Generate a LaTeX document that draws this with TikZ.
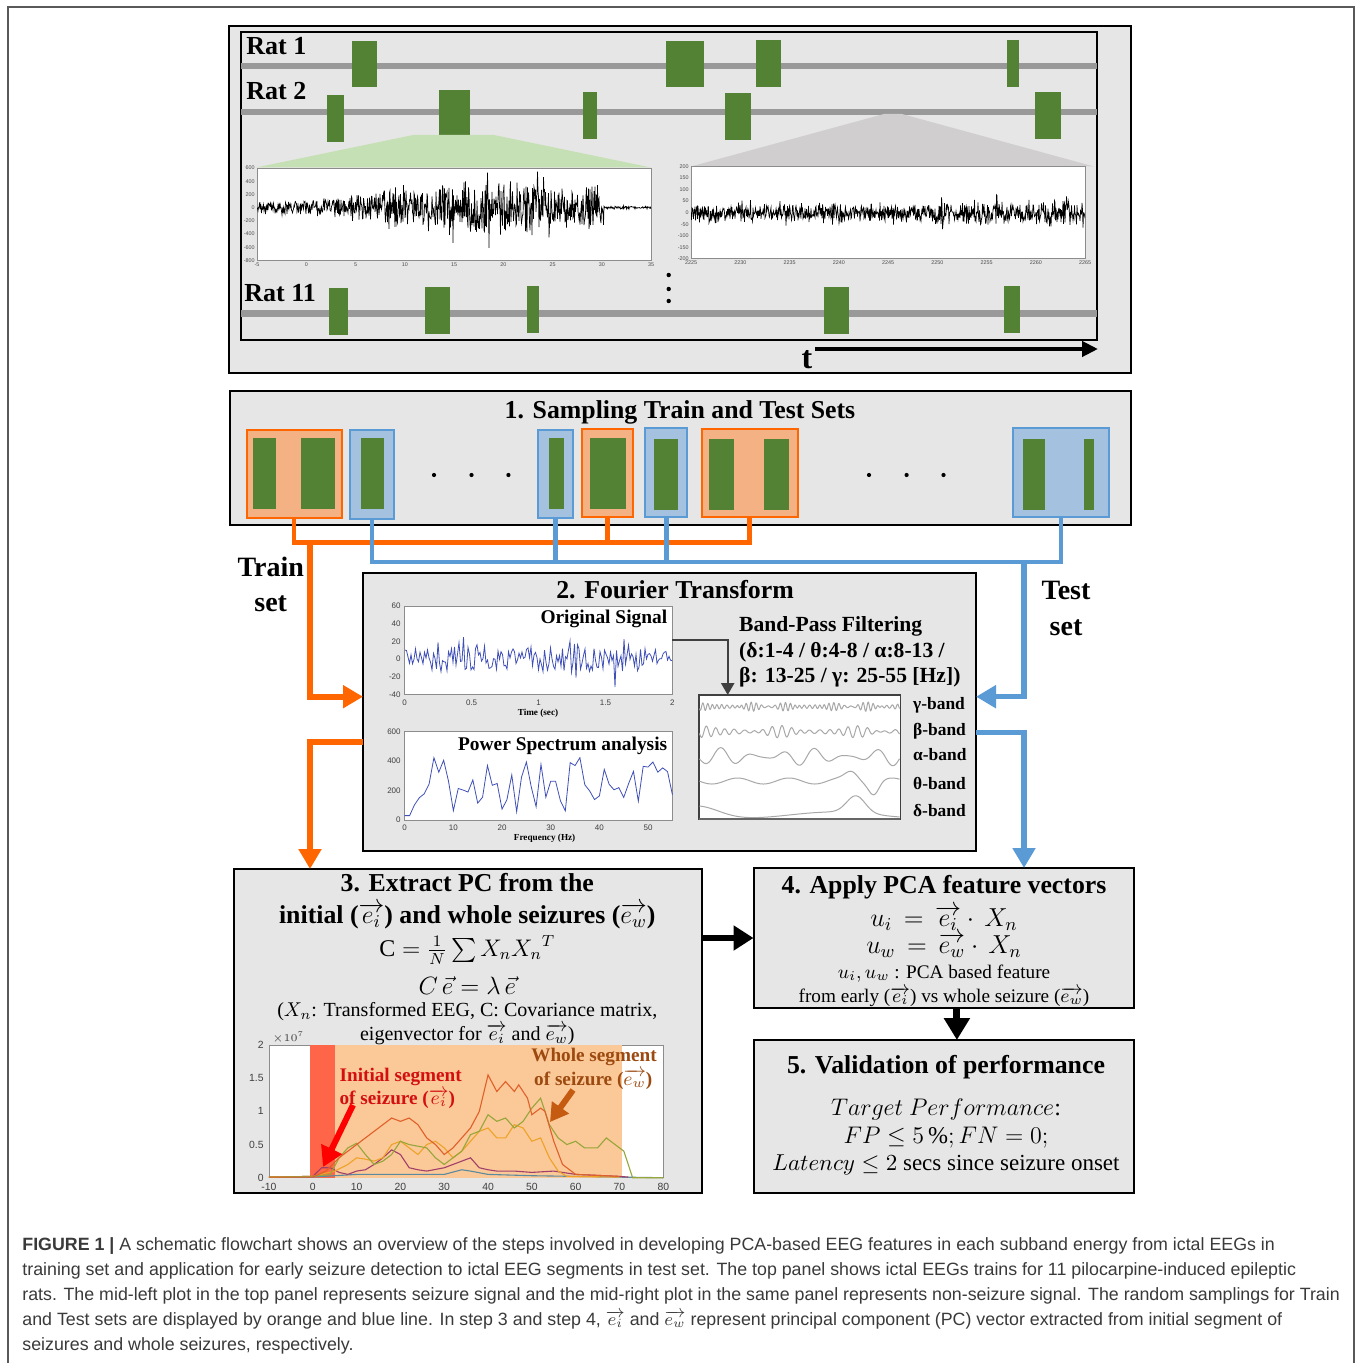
\RequirePackage{fix-cm}
\documentclass[tikz,border=0pt]{standalone}
\usepackage{amsmath}
\usepackage{fontspec}
\setmainfont{Liberation Serif}
\setsansfont{Liberation Sans}
\usetikzlibrary{arrows.meta}

\definecolor{panel}{HTML}{E7E6E6}
\definecolor{seizgreen}{HTML}{548235}
\definecolor{track}{HTML}{999999}
\definecolor{trainfill}{HTML}{F4B183}
\definecolor{trainline}{HTML}{FF6600}
\definecolor{testfill}{HTML}{A4C2E0}
\definecolor{testline}{HTML}{5B9BD5}
\definecolor{zoomgreen}{HTML}{C5E0B4}
\definecolor{zoomgray}{HTML}{D0CECE}
\definecolor{sigblue}{HTML}{3F4FB8}
\definecolor{bandgray}{HTML}{A8A8A8}
\definecolor{wholefill}{HTML}{FBC898}
\definecolor{initfill}{HTML}{FF6649}
\definecolor{initred}{HTML}{D40F0F}
\definecolor{wholebrown}{HTML}{9C4A10}
\definecolor{brownarrow}{HTML}{C55A11}
\definecolor{captxt}{HTML}{3A3A3A}
\definecolor{pcA}{HTML}{E0602A}
\definecolor{pcB}{HTML}{96A63A}
\definecolor{pcC}{HTML}{EDA228}
\definecolor{pcD}{HTML}{A0406A}
\definecolor{pcE}{HTML}{5A8AA0}

\newcommand\setfs[1]{\fontsize{#1}{#1}\selectfont}
% rectangle node given by its pixel corners: [style]{name}{x1}{y1}{x2}{y2}
\newcommand\rectnode[6][]{%
  \node[inner sep=0pt, outer sep=0pt, minimum width={(#5-#3)*0.5pt},
        minimum height={(#6-#4)*0.5pt}, #1] (#2) at ({(#3+#5)/2},{(#4+#6)/2}) {};}
\newcommand\seizblk[4]{\fill[seizgreen] (#1,#2) rectangle (#3,#4);}

\begin{document}
\begin{tikzpicture}[x=0.5pt,y=-0.5pt,
  declare function={szamp(\x)=(\x<604)*(6+28*exp(-((\x-485)/115)*((\x-485)/115))+(\x>578)*11)+(\x>=604)*1.5;
                    bump(\x,\c,\w)=exp(max(-30,-((\x-\c)/\w)*((\x-\c)/\w)));},
  every node/.style={inner sep=0pt},
  panelbox/.style={draw=black, line width=1pt, fill=panel},
  trainbox/.style={fill=trainfill, draw=trainline, line width=1pt},
  testbox/.style={fill=testfill, draw=testline, line width=1pt},
  trainwire/.style={draw=trainline, line width=2.3pt},
  testwire/.style={draw=testline, line width=2.3pt},
  trainflow/.style={draw=trainline, line width=2.8pt, -{Triangle[length=10pt,width=11pt]}},
  testflow/.style={draw=testline, line width=2.6pt, -{Triangle[length=10pt,width=11pt]}},
  bigarrow/.style={draw=black, line width=3pt, -{Triangle[length=10pt,width=12pt]}},
  steptitle/.style={font=\bfseries\setfs{12.9}, anchor=base},
  ratlbl/.style={font=\bfseries\setfs{13}, anchor=base west},
  sidelbl/.style={font=\bfseries\setfs{14}, anchor=base},
  bodytxt/.style={font=\setfs{10}, anchor=base},
  ticklbl/.style={font=\sffamily\setfs{2.7}, text=black!70},
  fticklbl/.style={font=\sffamily\setfs{4}, text=black!75},
  pticklbl/.style={font=\sffamily\setfs{5.2}, text=black!75},
  bandlbl/.style={font=\bfseries\setfs{8.7}, anchor=base west},
  plotlbl/.style={font=\bfseries\setfs{9.7}, anchor=base east},
  axisbox/.style={fill=white, draw=black!45, line width=0.3pt},
  wave/.style={draw=bandgray, line width=0.5pt}
]
\useasboundingbox (0,0) rectangle (1360,1363);
\fill[white] (0,0) rectangle (1360,1363);
\draw[black!65, line width=0.8pt] (8,1363) -- (8,7) -- (1354,7) -- (1354,1363);

% ---------------- seizure trains of the rats ----------------
\rectnode[panelbox]{toppanel}{229}{26}{1131}{373}
\rectnode[draw=black, line width=1.4pt, fill=panel]{trains}{241}{32}{1097}{340}
\fill[track] (241,62.8) rectangle (1097,69.5);
\fill[track] (241,108.6) rectangle (1097,115.3);
\fill[track] (241,310) rectangle (1097,317);
\node[ratlbl] (rat1) at (246,55) {Rat 1};
\node[ratlbl] (rat2) at (246,100) {Rat 2};
\node[ratlbl] (rat11) at (244,302) {Rat 11};
% Rat 1
\seizblk{351.8}{40.7}{377.2}{87.5}
\seizblk{666.4}{40.7}{704}{87.5}
\seizblk{755.5}{40}{781}{86.9}
\seizblk{1007}{40}{1019}{86.9}
% Rat 2
\seizblk{326.9}{94.9}{344.3}{141.7}
\seizblk{438.5}{90.5}{469.8}{135}
\seizblk{583}{91.9}{597}{138.7}
\seizblk{725.4}{92.9}{750.9}{139.7}
\seizblk{1035.4}{91.9}{1061.4}{138.7}
% Rat 11
\seizblk{329.2}{288.2}{347.7}{335.4}
\seizblk{424.6}{287.2}{450}{334}
\seizblk{527}{286.5}{539.2}{333.4}
\seizblk{823.7}{287.5}{849.2}{334.4}
\seizblk{1004.2}{286.2}{1020.4}{333}
% zoom wedges
\fill[zoomgreen] (413,135) -- (494,135) -- (651,167.5) -- (256,167.5) -- cycle;
\fill[zoomgray] (884,114) -- (902,114) -- (1094,166.5) -- (691,166.5) -- cycle;
% seizure EEG
\rectnode[axisbox]{szplot}{257}{168}{651}{260.5}
\pgfmathsetseed{11}
\begin{scope}
\clip (257,168) rectangle (651,260.5);
\draw[line width=0.35pt] (257,207.6)
  \foreach \k in {257.5,258,...,651}{ -- (\k,{207.6+szamp(\k)*(0.75*rand+1.0*rand*rand*rand)}) };
\end{scope}
\foreach \v in {600,400,200,0,-200,-400,-600,-800}
  \node[ticklbl, anchor=east] at (255,{168+(600-\v)/1400*92.5}) {\v};
\foreach \v in {-5,0,5,10,15,20,25,30,35}
  \node[ticklbl, anchor=north] at ({257+(\v+5)/40*394},262) {\v};
% non-seizure EEG
\rectnode[axisbox]{nzplot}{691}{166.5}{1085}{258.8}
\begin{scope}
\clip (691,166.5) rectangle (1085,258.8);
\draw[line width=0.35pt] (691,212.7)
  \foreach \k in {691.5,692,...,1085}{ -- (\k,{212.7+(1+0.4*(\k>940))*(7*rand+14*rand*rand*rand)}) };
\end{scope}
\foreach \v in {200,150,100,50,0,-50,-100,-150,-200}
  \node[ticklbl, anchor=east] at (689,{166.5+(200-\v)/400*92.3}) {\v};
\foreach \v in {2225,2230,2235,2240,2245,2250,2255,2260,2265}
  \node[ticklbl, anchor=north] at ({691+(\v-2225)/40*394},260.5) {\v};
% more rats
\fill (668.7,275) circle (2.2);
\fill (668.7,289) circle (2.2);
\fill (668.7,301) circle (2.2);
% time axis
\node[font=\bfseries\setfs{16}, anchor=base] (tlbl) at (807,369) {t};
\coordinate (tstart) at (815,349);
\coordinate (tend) at (1098,349);
\draw[line width=2.2pt, -{Triangle[length=8pt,width=7.5pt]}] (tstart) -- (tend);

% ---------------- 1. sampling ----------------
\rectnode[panelbox]{sampling}{229.7}{390.7}{1131}{524.7}
\node[steptitle] (samptitle) at (680,418) {1. Sampling Train and Test Sets};
\rectnode[trainbox]{tr1}{246.5}{430}{341.7}{518}
\rectnode[testbox]{te1}{350.3}{430.3}{393.6}{518.7}
\rectnode[testbox]{te2}{537.9}{430}{572.5}{518}
\rectnode[trainbox]{tr2}{582.3}{428.7}{633}{516.7}
\rectnode[testbox]{te3}{645.2}{428}{687.3}{516.7}
\rectnode[trainbox]{tr3}{701.7}{429.3}{797.5}{517.3}
\rectnode[testbox]{te4}{1012.7}{428.3}{1109}{516.7}
\seizblk{252.8}{438}{275.9}{508.7}
\seizblk{301.3}{438}{334.8}{508.7}
\seizblk{360.7}{438}{383.8}{508.7}
\seizblk{548.8}{438}{564.4}{508.7}
\seizblk{589.8}{438}{626.1}{508.7}
\seizblk{654.4}{439}{678.1}{509.7}
\seizblk{708.7}{439}{734}{509.7}
\seizblk{764}{439}{789.4}{509.7}
\seizblk{1023.2}{439}{1044.6}{510}
\seizblk{1084.3}{439}{1093.6}{510}
\foreach \d in {434,471.5,508.4,869,906.6,943.5}
  \fill (\d,475) circle (2.1);

% train / test wiring
\coordinate (trainbus) at (310,542.3);
\coordinate (testbus) at (1024,562);
\draw[trainwire] (tr1.south) -- (tr1.south |- trainbus) -- (tr3.south |- trainbus) -- (tr3.south);
\draw[trainwire] (tr2.south) -- (tr2.south |- trainbus);
\draw[testwire] (te1.south) -- (te1.south |- testbus) -- (te4.south |- testbus) -- (te4.south);
\draw[testwire] (te2.south) -- (te2.south |- testbus);
\draw[testwire] (te3.south) -- (te3.south |- testbus);
\node[sidelbl] (trainlbl1) at (270.7,576.7) {Train};
\node[sidelbl] (trainlbl2) at (270.7,611.7) {set};
\node[sidelbl] (testlbl1) at (1066,599.3) {Test};
\node[sidelbl] (testlbl2) at (1066,635) {set};

% ---------------- 2. Fourier transform ----------------
\rectnode[panelbox]{ft}{363}{573}{976}{851}
\node[steptitle] (fttitle) at (675,598.3) {2. Fourier Transform};
\coordinate (trainin) at (310,696.7);
\coordinate (trainout) at (310,741.7);
\coordinate (testin) at (1024,696.7);
\coordinate (testout) at (1024,732.7);
\draw[trainflow] (trainbus) -- (trainin) -- (trainin -| ft.west);
\draw[testflow] (testbus) -- (testin) -- (testin -| ft.east);

% original signal
\rectnode[axisbox]{osig}{404.7}{606}{672.4}{694.3}
\pgfmathsetseed{5}
\begin{scope}
\clip (404.7,606) rectangle (672.4,694.3);
\draw[sigblue, line width=0.4pt] (405,650)
  \foreach \k in {406.5,408,...,672}{ -- (\k,{658.8+13*rand+19*rand*rand*rand}) };
\end{scope}
\foreach \v in {60,40,20,0,-20,-40}
  \node[fticklbl, anchor=east] at (401,{606+(60-\v)/100*88.3}) {\v};
\foreach \v in {0,0.5,1,1.5,2}
  \node[fticklbl, anchor=north] at ({404.7+\v/2*267.7},699.5) {\v};
\node[font=\bfseries\setfs{4.6}] (tlabel) at (538,713.3) {Time (sec)};
\node[plotlbl] (osiglbl) at (667.6,623.3) {Original Signal};

% power spectrum
\rectnode[axisbox]{pspec}{404.7}{731.3}{672.4}{820}
\pgfmathsetseed{23}
\draw[sigblue, line width=0.4pt] (404.7,815.6) -- (409.6,815.6) -- (414.4,805)
  \foreach \f in {3,...,55}{ -- ({404.7+\f*4.867},{820-(255+200*rand)*0.1478}) };
\foreach \v in {600,400,200,0}
  \node[fticklbl, anchor=east] at (401,{820-\v/600*88.7}) {\v};
\foreach \v in {0,10,20,30,40,50}
  \node[fticklbl, anchor=north] at ({404.7+\v*4.867},825) {\v};
\node[font=\bfseries\setfs{4.6}] (flabel) at (544.6,838.3) {Frequency (Hz)};
\node[plotlbl] (pslbl) at (667.6,750) {Power Spectrum analysis};

% band-pass filtering
\node[font=\bfseries\setfs{10.8}, anchor=base west] (bp1) at (738.8,631.7) {Band-Pass Filtering};
\node[font=\bfseries\setfs{10.8}, anchor=base west] (bp2) at (738.8,657.3) {(δ:1-4 / θ:4-8 / α:8-13 /};
\node[font=\bfseries\setfs{10.8}, anchor=base west] (bp3) at (738.8,682.7) {β: 13-25 / γ: 25-55 [Hz])};
\rectnode[fill=white, draw=black!75, line width=0.6pt]{bands}{698.9}{695}{900.1}{819.3}
\coordinate (sigtap) at (672.4,640);
\coordinate (bandtap) at (727.7,695);
\draw[draw=black!75, line width=1.2pt, -{Triangle[length=6pt,width=6.5pt]}] (sigtap) -| (bandtap);
% the five filtered bands (local abscissa 0..201 across the box)
\begin{scope}
\clip (699,695.5) rectangle (900,819);
\draw[wave] plot[domain=0.5:200.5, samples=500] ({699+\x},{706.7+(2+1.6*sin(9*\x))*sin(74*\x)+1.2*sin(61*\x)});
\draw[wave] plot[domain=0.5:200.5, samples=400] ({699+\x},{731.7+(3+2.2*sin(5*\x+40))*sin(38*\x)+1*sin(29*\x)});
\draw[wave] plot[domain=0.5:200.5, samples=300] ({699+\x},{756.7+(5+4*sin(4.2*\x))*sin(11.5*\x+20)});
\draw[wave] plot[domain=0.5:200.5, samples=250] ({699+\x},{781+3*sin(7*\x)-9*bump(\x,153,9)+12*bump(\x,175,7)});
\draw[wave] plot[domain=0.5:200.5, samples=250] ({699+\x},{815-9*bump(\x,1,28)-17*bump(\x,157,13)+3*sin(2*\x)});
\end{scope}
\draw[black!60, line width=1pt] (699,818.5) -- (900,818.5);
\node[bandlbl] (gam) at (912.8,709.3) {γ-band};
\node[bandlbl] (bet) at (912.8,735) {β-band};
\node[bandlbl] (alp) at (912.8,760.7) {α-band};
\node[bandlbl] (the) at (912.8,789.3) {θ-band};
\node[bandlbl] (del) at (912.8,816) {δ-band};

% ---------------- 3. principal components ----------------
\rectnode[panelbox]{pc}{234.3}{869}{701.7}{1193}
\draw[trainflow] (trainout -| ft.west) -- (trainout) -- (trainout |- pc.north);
\node[steptitle] (pct1) at (467.3,891.7) {3. Extract PC from the};
\node[steptitle] (pct2) at (467.3,923.3) {initial ($\overrightarrow{e_i}$) and whole seizures ($\overrightarrow{e_w}$)};
\node[font=\setfs{12}] (covf) at (467.3,950) {$\mathrm{C} = \frac{1}{N}\sum X_n {X_n}^T$};
\node[font=\setfs{12.5}, anchor=base] (eigf) at (467.3,994.3) {$C\,\vec{e} = \lambda\,\vec{e}$};
\node[bodytxt] (pcl1) at (467.3,1016.7) {($X_n$: Transformed EEG, C: Covariance matrix,};
\node[bodytxt] (pcl2) at (467.3,1040) {eigenvector for $\overrightarrow{e_i}$ and $\overrightarrow{e_w}$)};

% energy curves with initial and whole seizure windows
\rectnode[axisbox]{pcplot}{269}{1045}{663.3}{1177.7}
\fill[wholefill] (335,1045) rectangle (621.7,1177.7);
\fill[initfill] (310,1045) rectangle (335,1177.7);
\foreach \v in {0,0.5,1,1.5,2}
  \node[pticklbl, anchor=east] at (264,{1177.7-\v*66.35}) {\v};
\foreach \v in {-10,0,10,20,30,40,50,60,70,80}
  \node[pticklbl, anchor=north] at ({312.8+\v*4.381},1183) {\v};
\node[pticklbl, anchor=base west] (expo) at (272,1041) {$\times 10^7$};
\begin{scope}[shift={(156.4pt,-588.85pt)}, x=2.1905pt, y=33.15pt, line width=0.55pt]
\draw[pcE] plot coordinates {(-10,0.01) (0,0.01) (10,0.05) (20,0.05) (30,0.05) (34,0.12) (36,0.1) (40,0.05) (50,0.03) (60,0.02) (80,0)};
\draw[pcD] plot coordinates {(-10,0.01) (0,0.02) (2,0.15) (4,0.15) (6,0.08) (8,0.05) (10,0.1) (12,0.12) (14,0.2) (16,0.3) (18,0.42) (20,0.35) (22,0.15) (24,0.12) (26,0.1) (30,0.15) (34,0.25) (36,0.3) (38,0.15) (40,0.12) (42,0.1) (46,0.1) (50,0.08) (55,0.1) (60,0.05) (70,0.02) (72,0.01)};
\draw[pcC] plot coordinates {(-10,0.01) (0,0.02) (5,0.1) (8,0.2) (10,0.3) (12,0.28) (14,0.25) (16,0.3) (18,0.5) (20,0.55) (22,0.45) (24,0.35) (26,0.5) (28,0.55) (30,0.45) (32,0.3) (34,0.4) (36,0.55) (38,0.7) (40,0.75) (42,0.6) (44,0.6) (46,0.8) (48,0.75) (50,0.55) (52,0.6) (54,0.3) (56,0.1) (58,0.02) (70,0.01)};
\draw[pcB] plot coordinates {(-10,0.01) (0,0.02) (4,0.05) (6,0.3) (8,0.45) (10,0.52) (12,0.35) (14,0.2) (16,0.25) (18,0.35) (20,0.55) (22,0.5) (26,0.45) (28,0.3) (30,0.2) (32,0.3) (34,0.4) (36,0.65) (38,0.7) (40,0.95) (42,0.85) (44,0.9) (46,0.75) (48,0.85) (50,1.05) (52,1.2) (54,0.8) (56,0.6) (58,0.5) (60,0.55) (62,0.45) (65,0.45) (67,0.6) (69,0.5) (71,0.4) (73,0) (80,0)};
\draw[pcA] plot coordinates {(-10,0.01) (0,0.01) (3,0.1) (6,0.3) (8,0.4) (10,0.5) (12,0.6) (14,0.7) (16,0.8) (18,0.9) (20,0.85) (22,0.9) (24,0.8) (26,0.6) (28,0.5) (30,0.35) (32,0.45) (34,0.6) (36,0.75) (38,1.0) (40,1.55) (42,1.3) (44,1.45) (46,1.3) (47,1.4) (49,1.2) (50,0.95) (52,1.05) (53,1.0) (55,0.55) (57,0.2) (60,0.05) (70,0.02)};
\end{scope}
\node[font=\bfseries\setfs{9.6}, text=initred, anchor=base] (initl1) at (400.7,1081.7) {Initial segment};
\node[font=\bfseries\setfs{9.6}, text=initred, anchor=base] (initl2) at (397.3,1104.3) {of seizure ($\overrightarrow{e_i}$)};
\node[font=\bfseries\setfs{9.6}, text=wholebrown, anchor=base] (wholel1) at (594,1061.7) {Whole segment};
\node[font=\bfseries\setfs{9.6}, text=wholebrown, anchor=base] (wholel2) at (593.3,1085) {of seizure ($\overrightarrow{e_w}$)};
\coordinate (inittail) at (353,1105);
\coordinate (inittip) at (323,1167);
\coordinate (wholetail) at (573,1090);
\coordinate (wholetip) at (550,1122);
\draw[red, line width=3pt, -{Triangle[length=10pt,width=11pt]}] (inittail) -- (inittip);
\draw[brownarrow, line width=3pt, -{Triangle[length=9pt,width=10pt]}] (wholetail) -- (wholetip);

% ---------------- 4. apply PCA features ----------------
\rectnode[panelbox]{apply}{753.5}{868}{1134}{1008.3}
\draw[testflow] (testout -| ft.east) -- (testout) -- (testout |- apply.north);
\node[steptitle] (apt) at (944,893.3) {4. Apply PCA feature vectors};
\node[font=\setfs{13}, anchor=base] (uif) at (944,926.7) {$u_i\,=\,\overrightarrow{e_i}\cdot\,X_n$};
\node[font=\setfs{13}, anchor=base] (uwf) at (944,953.3) {$u_w\,=\,\overrightarrow{e_w}\cdot\,X_n$};
\node[font=\setfs{9.6}, anchor=base] (apl1) at (944,978.3) {$u_i, u_w$ : PCA based feature};
\node[font=\setfs{9.6}, anchor=base] (apl2) at (944,1002.3) {from early ($\overrightarrow{e_i}$) vs whole seizure ($\overrightarrow{e_w}$)};
\coordinate (pcout) at (701.7,938);
\draw[bigarrow] (pcout) -- (pcout -| apply.west);

% ---------------- 5. validation ----------------
\rectnode[panelbox]{valid}{753.5}{1040}{1134}{1193}
\coordinate (applyout) at (956.9,1008.3);
\draw[black, line width=3.5pt, -{Triangle[length=11pt,width=12.5pt]}] (applyout) -- (applyout |- valid.north);
\node[steptitle] (vt) at (946,1073.3) {5. Validation of performance};
\node[font=\setfs{12}, anchor=base] (vl1) at (946,1115) {$Target\ Performance$:};
\node[font=\setfs{12}, anchor=base] (vl2) at (946,1143.3) {$FP \le 5\,\%; FN = 0;$};
\node[font=\setfs{11.5}, anchor=base] (vl3) at (946,1170) {$Latency \le 2$ secs since seizure onset};

% ---------------- caption ----------------
\begin{scope}[every node/.style={font=\sffamily\setfs{8.9}, text=captxt, anchor=base west, inner sep=0pt}]
\node (cap1) at (22,1250) {\textbf{FIGURE 1 |} A schematic flowchart shows an overview of the steps involved in developing PCA-based EEG features in each subband energy from ictal EEGs in};
\node (cap2) at (22,1275.2) {training set and application for early seizure detection to ictal EEG segments in test set. The top panel shows ictal EEGs trains for 11 pilocarpine-induced epileptic};
\node (cap3) at (22,1300.4) {rats. The mid-left plot in the top panel represents seizure signal and the mid-right plot in the same panel represents non-seizure signal. The random samplings for Train};
\node (cap4) at (22,1325.6) {and Test sets are displayed by orange and blue line. In step 3 and step 4, $\overrightarrow{e_i}$ and $\overrightarrow{e_w}$ represent principal component (PC) vector extracted from initial segment of};
\node (cap5) at (22,1350.8) {seizures and whole seizures, respectively.};
\end{scope}
\end{tikzpicture}
\end{document}
